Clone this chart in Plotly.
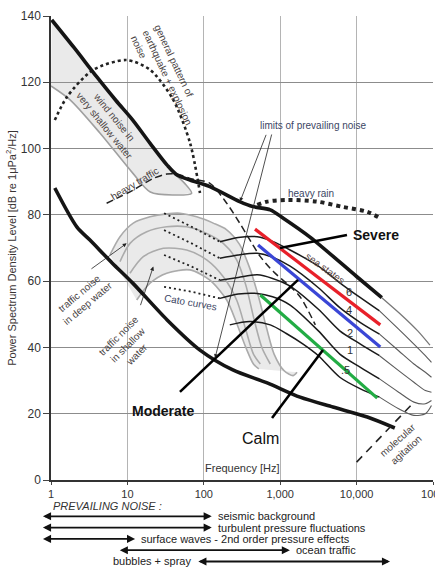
import numpy as np
import plotly.graph_objects as go

# ---------------- data: frequency as log10(Hz), level in dB re 1uPa^2/Hz ----------------
upper_lg = [0.01, 0.3, 0.6, 0.85, 1.07, 1.3, 1.52, 1.65, 1.82, 2.08, 2.47, 2.64, 2.87, 3.04, 3.39, 4.0, 4.33]
upper_db = [138.8, 130.5, 121.6, 114.5, 108.6, 101.5, 95.0, 92.0, 90.5, 88.5, 84.0, 82.5, 81.5, 79.0, 73.3, 61.4, 55.0]
upper_tail_lg = [4.33, 4.6, 4.8, 4.96]
upper_tail_db = [55.0, 49.5, 45.0, 40.7]

lower_lg = [0.05, 0.34, 0.51, 0.8, 1.07, 1.52, 1.95, 2.38, 2.83, 3.26, 3.69, 4.14, 4.5]
lower_db = [88.1, 76.3, 72.4, 65.5, 59.4, 48.3, 39.2, 33.2, 29.3, 25.0, 22.0, 19.0, 15.7]

wind_edge_lg = [1.62, 1.75, 1.84, 1.60, 1.30, 1.07, 0.64, 0.25, 0.0]
wind_edge_db = [92.3, 89.5, 86.5, 86.0, 86.9, 92.6, 104.7, 114.7, 118.9]

quake_lg = [0.05, 0.21, 0.55, 0.99, 1.30, 1.60, 1.82, 1.95]
quake_db = [108.6, 115.6, 123.7, 126.7, 123.7, 114.7, 101.7, 86.6]

traffic_heavy_lg = [0.728, 1.077, 1.34, 1.514, 1.65, 1.82, 2.08, 2.30, 2.47, 2.63, 2.74, 2.91, 3.1, 3.26, 3.46]
traffic_heavy_db = [83.5, 87.5, 91.0, 92.3, 92.3, 91.0, 89.5, 83.5, 77.5, 71.4, 67.4, 62.9, 59.0, 55.3, 46.8]

ship_outer_lg = [0.772, 0.903, 1.077, 1.296, 1.514, 1.688, 1.907, 2.124, 2.30, 2.47, 2.60, 2.72, 2.82, 2.92, 3.05, 3.17, 3.22]
ship_outer_db = [67.9, 73.4, 77.5, 79.4, 80.3, 80.5, 79.4, 77.5, 75.5, 71.0, 64.0, 55.0, 46.0, 38.0, 33.0, 31.5, 32.5]
ship_c2_lg = [0.903, 1.034, 1.253, 1.514, 1.776, 2.038, 2.255, 2.43, 2.55, 2.66, 2.76, 2.87]
ship_c2_db = [65.9, 71.4, 74.9, 76.4, 76.4, 74.4, 71.4, 66.4, 58.8, 48.3, 40.0, 35.0]
ship_c3_lg = [1.034, 1.208, 1.47, 1.776, 2.038, 2.255, 2.43, 2.55, 2.65, 2.74]
ship_c3_db = [62.4, 67.4, 69.9, 69.4, 66.4, 61.3, 54.3, 45.3, 38.0, 35.0]
ship_c4_lg = [1.122, 1.296, 1.514, 1.82, 2.08, 2.30, 2.43, 2.55, 2.65, 2.72]
ship_c4_db = [54.3, 59.4, 62.4, 63.4, 60.3, 54.3, 47.3, 40.0, 35.0, 33.5]

cato_lg = [1.48, 1.84, 2.21]
cato_db = [[80.5, 76.4, 71.9], [75.4, 71.4, 66.9], [67.9, 64.4, 60.3], [58.3, 56.8, 54.8]]

sea_labels = ["6", "4", "2", "1", ".5"]
sea_lg = [[2.21, 2.45, 2.7, 2.9, 3.13, 3.5, 3.78, 4.05, 4.3]] * 4 + [[2.34, 2.6, 2.87, 3.08, 3.3, 3.5, 3.78, 4.05, 4.3]]
sea_db = [
    [71.9, 73.2, 73.4, 72.0, 69.4, 64.5, 59.5, 55.0, 51.0],
    [66.9, 67.9, 68.4, 67.2, 64.5, 58.0, 52.0, 47.5, 44.0],
    [60.3, 61.1, 61.9, 60.8, 58.5, 51.5, 45.0, 41.0, 37.5],
    [54.8, 56.1, 56.3, 55.3, 52.8, 45.0, 38.0, 34.0, 30.5],
    [46.8, 47.8, 46.8, 44.2, 41.0, 37.5, 31.0, 27.5, 25.0],
]
sea_tail_lg = [4.3, 4.55, 4.75, 4.9, 4.98]
sea_tail_db = [
    [51.0, 45.5, 41.0, 37.5, 35.5],
    [44.0, 39.0, 35.0, 32.5, 31.0],
    [37.5, 33.0, 29.5, 27.0, 26.5],
    [30.5, 26.5, 23.5, 23.0, 24.0],
    [25.0, 21.5, 19.5, 20.0, 22.5],
]
sea_label_lg = [3.90, 3.90, 3.91, 3.91, 3.86]
sea_label_db = [56.7, 51.3, 44.4, 39.2, 33.2]

rain_lg = [2.70, 2.83, 3.09, 3.48, 3.82, 4.14, 4.31]
rain_db = [83.0, 84.0, 84.5, 84.0, 82.4, 80.9, 79.0]

molecular_lg = [4.0, 4.74]
molecular_db = [5.4, 23.2]

state_names = ["Severe", "Moderate", "Calm"]
state_colors = ["#e8202a", "#3a46d6", "#22ac44"]
state_line_lg = [[2.67, 4.31], [2.71, 4.31], [2.74, 4.27]]
state_line_db = [[75.7, 46.8], [70.9, 40.1], [55.8, 24.7]]
pointer_lg = [[2.997, 3.874], [1.688, 3.233], [2.893, 3.56]]
pointer_db = [[70.0, 73.9], [26.6, 60.4], [18.7, 39.2]]
state_text_lg = [4.25, 1.466, 2.736]
state_text_db = [73.9, 20.8, 12.4]

x_tickvals = [1, 10, 100, 1000, 10000, 100000]
x_ticktext = ["1", "10", "100", "1,000", "10,000", "100k"]
y_tickvals = [0, 20, 40, 60, 80, 100, 120, 140]

noise_names = ["seismic background", "turbulent pressure fluctuations",
               "surface waves - 2nd order pressure effects", "ocean traffic", "bubbles + spray"]
noise_fmin = [0.75, 0.75, 0.75, 7.6, 81]
noise_fmax = [127, 127, 12.6, 1340, 27400]


def hz(a):
    return 10 ** np.asarray(a, dtype=float)


fig = go.Figure()


def line(lg, db, color, width, dash="solid", shape="spline", fill=None, fillcolor=None, mode="lines"):
    fig.add_trace(go.Scatter(x=hz(lg), y=db, mode=mode, line=dict(color=color, width=width, dash=dash,
                                                                   shape=shape, smoothing=0.8),
                             fill=fill, fillcolor=fillcolor, hoverinfo="skip", showlegend=False,
                             xaxis="x", yaxis="y"))


# wind-noise shaded area
wind_poly_lg = [v for v in upper_lg if v <= 1.6] + wind_edge_lg
wind_poly_db = [d for v, d in zip(upper_lg, upper_db) if v <= 1.6] + wind_edge_db
line(wind_poly_lg, wind_poly_db, "rgba(0,0,0,0)", 0, shape="linear", fill="toself",
     fillcolor="rgba(160,160,160,0.22)")
line(wind_edge_lg, wind_edge_db, "#a0a0a0", 1.6)

# shipping traffic shaded area
ship_poly_lg = ship_outer_lg + ship_c4_lg[::-1]
ship_poly_db = ship_outer_db + ship_c4_db[::-1]
line(ship_poly_lg, ship_poly_db, "rgba(0,0,0,0)", 0, shape="linear", fill="toself",
     fillcolor="rgba(160,160,160,0.22)")
for lg, db in [(ship_outer_lg, ship_outer_db), (ship_c2_lg, ship_c2_db),
               (ship_c3_lg, ship_c3_db), (ship_c4_lg, ship_c4_db)]:
    line(lg, db, "#ababab", 1.6)

# earthquake / explosion
line(quake_lg, quake_db, "#222", 2.6, dash="dot")
# heavy traffic
line(traffic_heavy_lg, traffic_heavy_db, "#222", 1.5, dash="7px,4px")
# Cato curves
for db in cato_db:
    line(cato_lg, db, "#222", 1.8, dash="2px,3px", shape="linear")
# sea states
for lg, db, tdb in zip(sea_lg, sea_db, sea_tail_db):
    line(lg, db, "#1a1a1a", 1.5)
    line(sea_tail_lg, tdb, "#5a5a5a", 1.1)
# prevailing-noise limits
line(upper_lg, upper_db, "#151515", 3.6)
line(upper_tail_lg, upper_tail_db, "#777", 1.3)
line(lower_lg, lower_db, "#151515", 3.6)
# heavy rain
line(rain_lg, rain_db, "#222", 4, dash="dot")
# molecular agitation
line(molecular_lg, molecular_db, "#222", 1.6, dash="8px,6px", shape="linear")
# coloured sea-state lines and pointers
for c, lg, db in zip(state_colors, state_line_lg, state_line_db):
    line(lg, db, c, 3.2, shape="linear")
for lg, db in zip(pointer_lg, pointer_db):
    line(lg, db, "#000", 2.6, shape="linear")

ann = []
blue_txt = "#3b4664"
gray_txt = "#4a4444"


def text(t, lg, db, size=10, color=gray_txt, angle=0, align="center", **kw):
    ann.append(dict(text=t, x=lg, y=db, xref="x", yref="y", showarrow=False, textangle=angle,
                    font=dict(size=size, color=color), align=align, **kw))


text("general pattern of<br>earthquake + explosion<br>noise", 1.518, 121.3, angle=65, align="left")
text("wind noise in<br>very shallow water", 0.77, 108.0, angle=51)
text("heavy traffic", 1.10, 89.4, angle=-31)
text("traffic noise<br>in deep water", 0.43, 55.0, angle=-40)
text("traffic noise<br>in shallow<br>water", 0.995, 40.7, angle=-45)
text("Cato curves", 1.83, 53.7, color=blue_txt, angle=10)
text("limits of prevailing noise", 3.43, 107.1, color=blue_txt)
text("heavy rain", 3.40, 86.3, color=blue_txt)
text("sea states", 3.59, 63.7, color="#5a4848", angle=36)
for lab, lg, db in zip(sea_labels, sea_label_lg, sea_label_db):
    text(lab, lg, db, size=11, color="#333")
text("molecular<br>agitation", 4.59, 10.6, angle=-42)
text("Frequency [Hz]", 2.513, 3.6, size=11, color="#333")
for name, lg, db in zip(state_names, state_text_lg, state_text_db):
    if name == "Calm":
        text(name, lg, db, size=16, color="#111")
    else:
        text("<b>%s</b>" % name, lg, db, size=14, color="#111")

# thin pointer arrows
arrows = [((2.474, 84.0), (2.823, 104.6)), ((2.147, 36.8), (2.893, 104.7)),
          ((0.99, 71.4), (0.51, 63.4)), ((1.339, 64.4), (1.165, 52.3))]
for (hx, hy), (tx, ty) in arrows:
    ann.append(dict(x=hx, y=hy, ax=tx, ay=ty, xref="x", yref="y", axref="x", ayref="y", text="",
                    showarrow=True, arrowhead=2, arrowsize=1, arrowwidth=0.8, arrowcolor="#222"))

# prevailing noise ranges (second invisible axis pair below the chart)
ann.append(dict(text="<i>PREVAILING NOISE :</i>", x=0, y=0, xref="x2", yref="y2", xanchor="left",
                yshift=-1, showarrow=False, font=dict(size=11, color="#333")))
for i, (name, f0, f1) in enumerate(zip(noise_names, noise_fmin, noise_fmax)):
    row = i + 1
    ann.append(dict(x=np.log10(f1), y=row, ax=np.log10(f0), ay=row, xref="x2", yref="y2",
                    axref="x2", ayref="y2", text="", showarrow=True, arrowhead=2, arrowsize=0.9,
                    arrowwidth=1.8, arrowside="end+start", arrowcolor="#111"))
    if name.startswith("bubbles"):
        ann.append(dict(text=name, x=np.log10(f0), y=row, xref="x2", yref="y2", xanchor="right",
                        xshift=-4, showarrow=False, font=dict(size=11, color="#222")))
    else:
        ann.append(dict(text=name, x=np.log10(f1), y=row, xref="x2", yref="y2", xanchor="left",
                        xshift=4, showarrow=False, font=dict(size=11, color="#222")))

fig.update_layout(
    width=435, height=570,
    margin=dict(l=51, r=2, t=16, b=0, autoexpand=False),
    paper_bgcolor="white", plot_bgcolor="white",
    font=dict(family="Liberation Sans, Arial, sans-serif", color="#333"),
    showlegend=False,
    annotations=ann,
    xaxis=dict(type="log", range=[0, 5], tickvals=x_tickvals, ticktext=x_ticktext,
               ticks="outside", ticklen=3, tickcolor="#444", showline=True, linecolor="#333",
               linewidth=1.5, gridcolor="#b4b4b4", gridwidth=1.3, zeroline=False,
               tickfont=dict(size=11, color="#333"), ticklabeloverflow="allow", domain=[0, 1],
               anchor="y", automargin=False),
    yaxis=dict(range=[0, 140], tickvals=y_tickvals, ticks="outside", ticklen=6, tickcolor="#444",
               showline=True, linecolor="#333", linewidth=1.5, gridcolor="#8c8c8c", gridwidth=1,
               zeroline=False, tickfont=dict(size=12, color="#333"),
               title=dict(text="Power Spectrum Density Level [dB re 1\u03bcPa<sup>2</sup>/Hz]",
                          font=dict(size=11, color="#3a3434"), standoff=2),
               domain=[0.16245, 1], anchor="x", automargin=False),
    xaxis2=dict(type="log", range=[0, 5], domain=[0, 1], anchor="y2", visible=False),
    yaxis2=dict(range=[5.754, -1.6], domain=[0, 0.15], anchor="x2", visible=False),
)
# keep the helper axes alive with an invisible trace
fig.add_trace(go.Scatter(x=[1], y=[0], xaxis="x2", yaxis="y2", mode="markers",
                         marker=dict(opacity=0), hoverinfo="skip", showlegend=False))

fig.write_html("out.html", config={"displayModeBar": False},
               post_script="document.body.style.margin='0';document.body.style.overflow='hidden';")
